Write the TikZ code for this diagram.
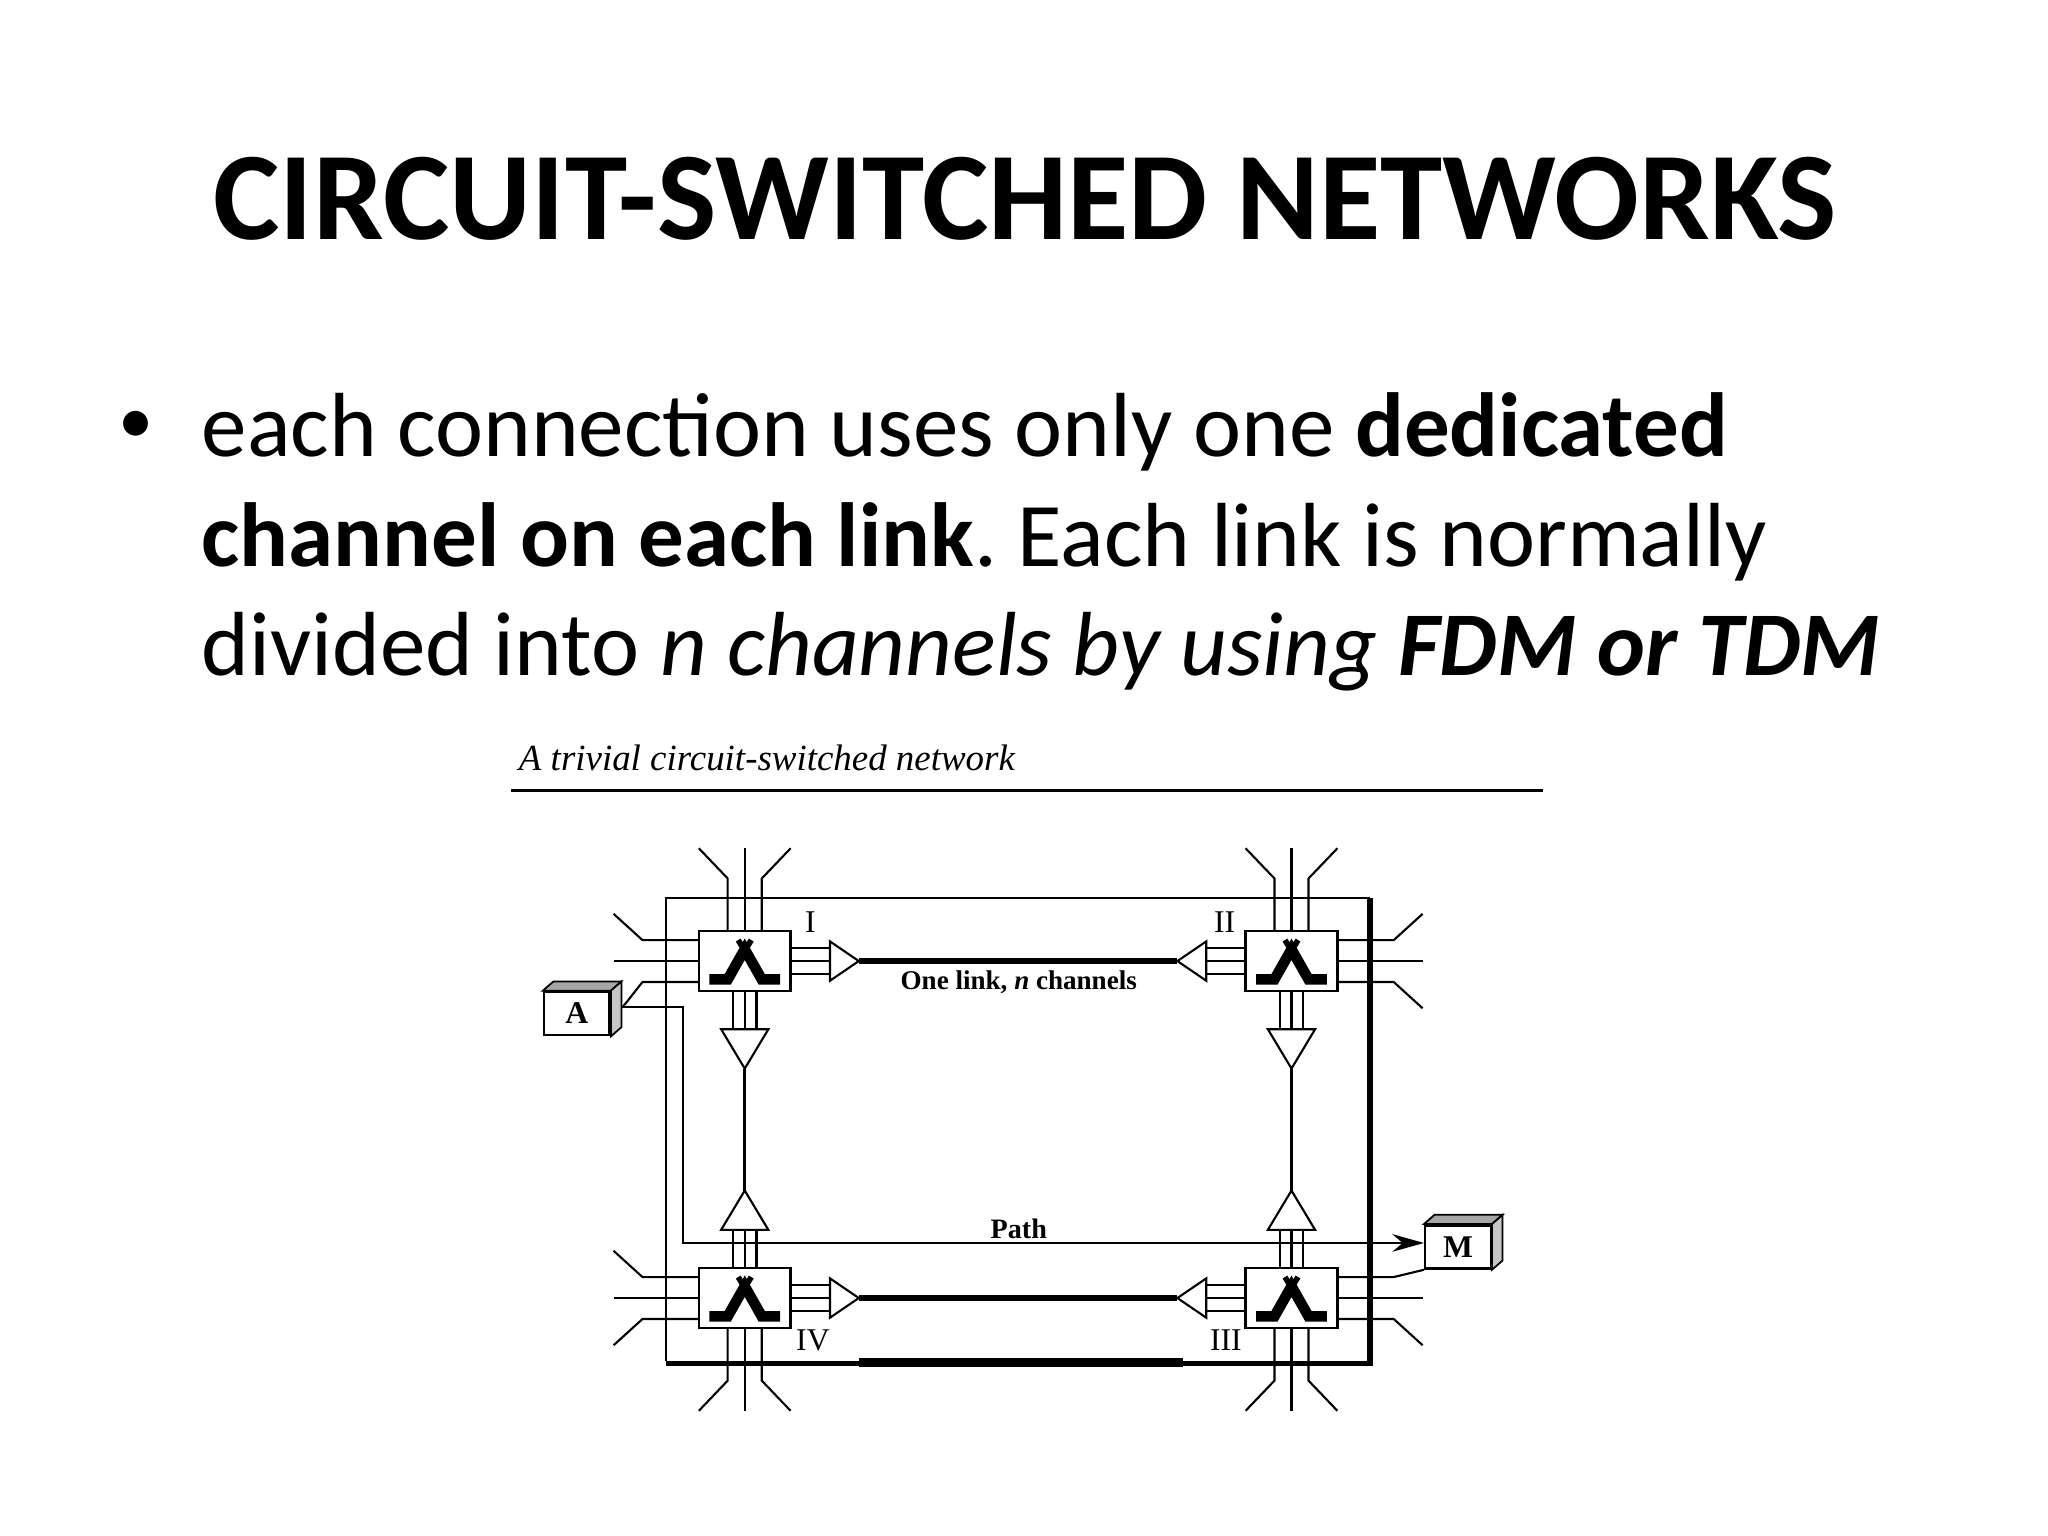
\documentclass[tikz,border=0pt]{standalone}
\usepackage{fontspec}
\usetikzlibrary{arrows.meta}
\setmainfont{Carlito}
\newfontfamily\serif{Liberation Serif}
\begin{document}
\frenchspacing
\begin{tikzpicture}[x=0.01311cm,y=-0.01311cm,line width=0.6pt,
  sw/.style={draw,fill=white,minimum width=70*0.01311cm,minimum height=46*0.01311cm,inner sep=0pt,line width=0.7pt},
  tri/.style={draw,fill=white,line width=0.6pt},
  link/.style={line width=1.6pt},
  lbl/.style={font=\serif\fontsize{9}{10}\selectfont,inner sep=0pt},
  cube/.style={draw,fill=white,minimum width=50*0.01311cm,minimum height=33*0.01311cm,inner sep=0pt,line width=0.7pt,font=\serif\bfseries\fontsize{9}{10}\selectfont},
  body/.style={anchor=base west,inner sep=0pt,font=\fontsize{25.9}{31}\selectfont}]
\useasboundingbox (0,0) rectangle (1562,1171);
% title
\node[inner sep=0pt,font=\bfseries\fontsize{35.7}{42}\selectfont] (title) at (782,152) {CIRCUIT-SWITCHED NETWORKS};
\node[inner sep=0pt,font=\fontsize{20}{24}\selectfont] (bullet) at (104,326) {•};
\node[body] (l1) at (153,348) {each connection uses only one \textbf{dedicated}};
\node[body] (l2) at (153,432) {\textbf{channel on each link}. Each link is normally};
\node[body] (l3) at (153,515) {divided into \textit{n channels by using \textbf{FDM or TDM}}};
% caption
\node[inner sep=0pt,anchor=west,font=\serif\itshape\fontsize{10.5}{12}\selectfont] (cap) at (395,578) {A trivial circuit-switched network};
\coordinate (c1) at (390,603); \coordinate (c2) at (1177,603);
\draw[line width=0.7pt] (c1) -- (c2);
% outer rectangle
\draw (508,1038) -- (508,685) -- (1045,685);
\draw[line width=1.6pt] (1045,685) -- (1045,1040) -- (508,1040);
\draw[line width=2.4pt] (655,1039) -- (902,1039);
% switch outside lines
\newcommand\extlines{%
  \draw (-35,0)--(-100,0);
  \draw (-35,-16)--(-78,-16)--(-100,-36);
  \draw (-13,-23)--(-13,-63)--(-35,-86);
  \draw (0,-23)--(0,-86);
  \draw (13,-23)--(13,-63)--(35,-86);
  \draw (35,-10)--(65,-10) (35,0)--(65,0) (35,10)--(65,10);
  \draw[tri] (65,-15)--(87,0)--(65,15)--cycle;
  \draw (-9,23)--(-9,52) (0,23)--(0,52) (9,23)--(9,52);
  \draw[tri] (-18,52)--(0,82)--(18,52)--cycle;}
\begin{scope}[shift={(568,733)}]\extlines
  \draw (-35,16)--(-78,16)--(-93,35);\end{scope}
\begin{scope}[shift={(985,733)},xscale=-1]\extlines
  \draw (-35,16)--(-78,16)--(-100,36);\end{scope}
\begin{scope}[shift={(568,990)},yscale=-1]\extlines
  \draw (-35,16)--(-78,16)--(-100,36);\end{scope}
\begin{scope}[shift={(985,990)},xscale=-1,yscale=-1]\extlines\end{scope}
% switch boxes
\newcommand\swsym[1]{%
  \begin{scope}[shift={(#1)}]
  \draw[line width=3pt,line join=miter] (-27,14)--(-13,14)--(0,-9)--(13,14)--(27,14);
  \draw[line width=1.6pt] (-5,-16)--(0,-8)--(5,-16);
  \end{scope}}
\node[sw] (s1) at (568,733) {};
\node[sw] (s2) at (985,733) {};
\node[sw] (s4) at (568,990) {};
\node[sw] (s3) at (985,990) {};
\swsym{568,733}\swsym{985,733}\swsym{568,990}\swsym{985,990}
% links
\coordinate (t1) at (655,733); \coordinate (t2) at (898,733);
\coordinate (t4) at (655,990); \coordinate (t3) at (898,990);
\coordinate (v1) at (568,815); \coordinate (v4) at (568,908);
\coordinate (v2) at (985,815); \coordinate (v3) at (985,908);
\draw[link] (t1) -- (t2); \draw[link] (t4) -- (t3);
\draw[line width=0.9pt] (v1) -- (v4); \draw[line width=0.9pt] (v2) -- (v3);
% labels
\node[lbl] (n1) at (618,703) {I};
\node[lbl] (n2) at (934,703) {II};
\node[lbl] (n4) at (620,1022) {IV};
\node[lbl] (n3) at (935,1022) {III};
\node[lbl,font=\serif\bfseries\fontsize{7.7}{9}\selectfont] (ol) at (777,749) {One link, \textit{n} channels};
\node[lbl,font=\serif\bfseries\fontsize{8}{9}\selectfont] (pl) at (777,937) {Path};
% end systems
\node[cube] (A) at (440,773) {A};
\node[cube] (M) at (1112,951) {M};
\foreach \n in {A,M}{
  \fill[gray!70,draw=black,line width=0.5pt] (\n.north west) -- ++(8,-7) -- ([shift={(8,-7)}]\n.north east) -- (\n.north east) -- cycle;
  \fill[gray!45,draw=black,line width=0.5pt] (\n.north east) -- ++(8,-7) -- ([shift={(8,-7)}]\n.south east) -- (\n.south east) -- cycle;}
% path
\coordinate (p1) at (521,768); \coordinate (p2) at (521,948);
\draw[-{Stealth[length=9pt,width=5pt]}] (474,768) -- (p1) -- (p2) -- (p2 -| M.west);
\draw (1020,974) -- (1063,974) -- (M.south west);
\end{tikzpicture}
\end{document}
